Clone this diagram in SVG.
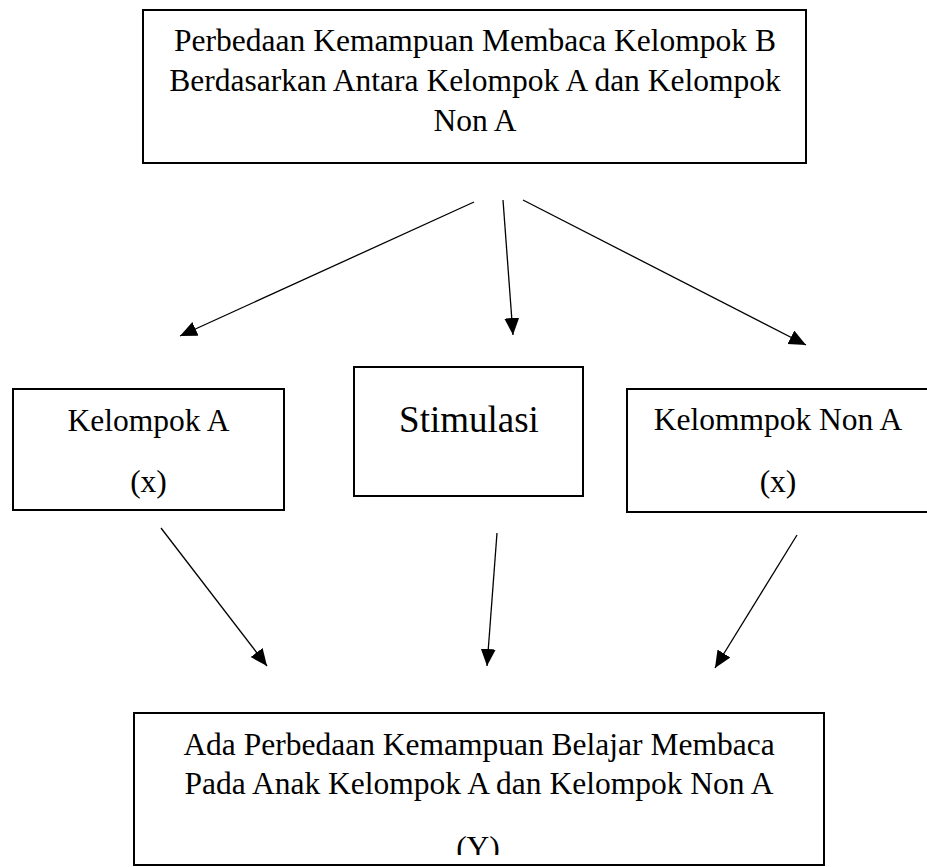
<svg xmlns="http://www.w3.org/2000/svg" width="927" height="867" viewBox="0 0 927 867">
<style>
.box{fill:#fff;stroke:#000;stroke-width:2}
.t{font-family:"Liberation Serif","Times New Roman",serif;font-size:31.5px;fill:#000;text-anchor:middle}
.big{font-size:37px}
.c{stroke:#000;stroke-width:1.3;fill:none;marker-end:url(#ah)}
</style>
<defs>
<marker id="ah" markerUnits="userSpaceOnUse" markerWidth="18" markerHeight="16" refX="17" refY="7.5" orient="auto" viewBox="0 0 18 16">
<path d="M0,0 L17,7.5 L0,15 z" fill="#000"/>
</marker>
<clipPath id="clipY"><rect x="134" y="713" width="690" height="142"/></clipPath>
</defs>
<rect width="927" height="867" fill="#fff"/>
<g id="top">
<rect class="box" x="143" y="10" width="663" height="153"/>
<text class="t" x="475" y="51">Perbedaan Kemampuan Membaca Kelompok B</text>
<text class="t" x="475" y="91">Berdasarkan Antara Kelompok A dan Kelompok</text>
<text class="t" x="475" y="131">Non A</text>
</g>
<g id="kelompokA">
<rect class="box" x="13" y="389" width="271" height="121"/>
<text class="t" x="148.5" y="431">Kelompok A</text>
<text class="t" x="148.5" y="492">(x)</text>
</g>
<g id="stimulasi">
<rect class="box" x="354" y="367" width="229" height="129"/>
<text class="t big" x="469" y="432">Stimulasi</text>
</g>
<g id="nonA">
<rect class="box" x="627" y="389" width="310" height="123"/>
<text class="t" x="778" y="430">Kelommpok Non A</text>
<text class="t" x="778" y="492">(x)</text>
</g>
<g id="result">
<rect class="box" x="134" y="713" width="690" height="152"/>
<text class="t" x="479" y="755">Ada Perbedaan Kemampuan Belajar Membaca</text>
<text class="t" x="479" y="794">Pada Anak Kelompok A dan Kelompok Non A</text>
<text class="t" x="478" y="858" clip-path="url(#clipY)">(Y)</text>
</g>
<g id="connectors">
<line class="c" x1="474" y1="202" x2="180" y2="336"/>
<line class="c" x1="503" y1="200" x2="513" y2="335"/>
<line class="c" x1="523" y1="200" x2="806" y2="345"/>
<line class="c" x1="161" y1="528" x2="267" y2="666"/>
<line class="c" x1="497" y1="533" x2="487" y2="666"/>
<line class="c" x1="797" y1="535" x2="715" y2="668"/>
</g>
</svg>
